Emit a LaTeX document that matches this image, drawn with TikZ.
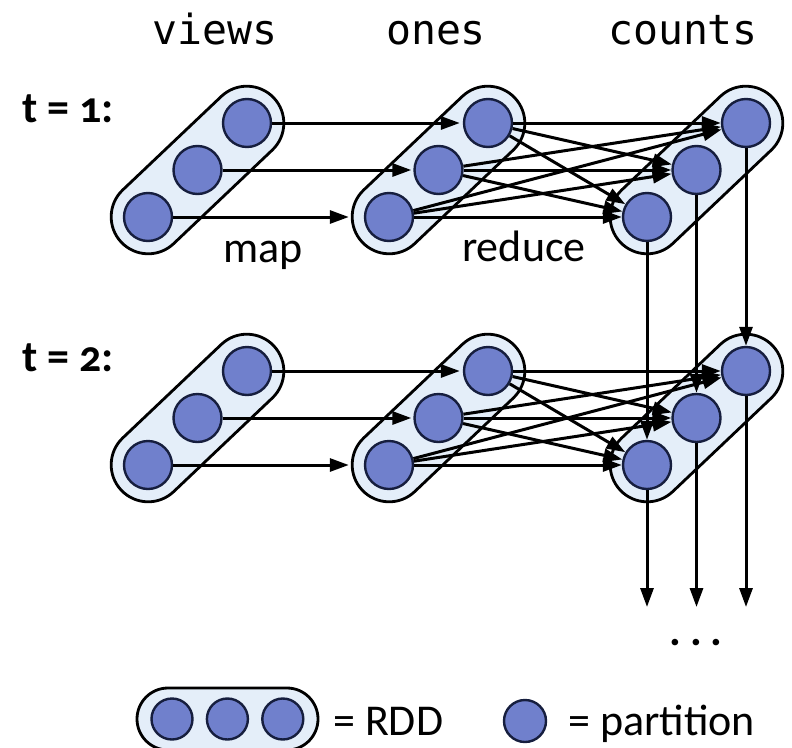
\documentclass[tikz,border=0pt]{standalone}
\usepackage{fontspec}
\setmainfont{Carlito}
\newfontfamily\etiq[Numbers=OldStyle]{Carlito}
\newfontfamily\mono{DejaVu Sans Mono}
\usetikzlibrary{positioning, arrows.meta}
\definecolor{azulpart}{RGB}{112,128,204}
\definecolor{bordepart}{RGB}{22,30,62}
\definecolor{azulrdd}{RGB}{228,238,249}
\tikzset{flecha/.style={line width=3pt, -{Triangle[length=19pt, width=13pt]}}}
\tikzset{particion/.style={draw=bordepart, circle, fill=azulpart, line width=2.4pt, minimum size=48pt, inner sep=0pt}}
\tikzset{rdd/.style={draw, rectangle, rounded corners=37pt, fill=azulrdd, line width=2.8pt, minimum width=210pt, minimum height=74pt}}
\tikzset{texto/.style={inner sep=0pt, anchor=base west, font=\fontsize{44}{50}\selectfont}}

\begin{document}
\begin{tikzpicture}[
            x = 1pt, y = -1pt
        ]
            \useasboundingbox (0,0) rectangle (792,747);

            % columnas
            \node[inner sep=0pt, anchor=base, font=\mono\fontsize{41.5}{48}\selectfont] (views) at (215,44) {views};
            \node[inner sep=0pt, anchor=base, font=\mono\fontsize{41.5}{48}\selectfont] (ones) at (436,44) {ones};
            \node[inner sep=0pt, anchor=base, font=\mono\fontsize{41.5}{48}\selectfont] (counts) at (683,44) {counts};

            \node[texto, font=\etiq\bfseries\fontsize{44}{50}\selectfont] (t1) at (22,122) {t = 1:};
            \node[texto, font=\etiq\bfseries\fontsize{44}{50}\selectfont] (t2) at (22,371) {t = 2:};

            % RDDs y particiones
            \foreach \col/\x in {v/148, o/389, c/647} {
                \foreach \row/\y in {1/217, 2/465} {
                    \node[rdd, rotate=43.5] (\col\row) at (\x+49.5,\y-47) {};
                    \foreach \i in {0,1,2}
                        \node[particion] (\col\row\i) at (\x+49.5*\i,\y-47*\i) {};
                }
            }

            % map y reduce
            \foreach \row in {1,2} {
                \foreach \i/\s in {0/15pt, 1/2pt, 2/3pt} {
                    \draw[flecha, shorten >=\s] (v\row\i) to [] (o\row\i);
                    \foreach \j in {0,1,2}
                        \draw[flecha] (o\row\i) to [] (c\row\j);
                }
            }

            \node[texto] (map) at (223,262) {map};
            \node[texto] (reduce) at (462,261) {reduce};

            % de t = 1 a t = 2 y siguientes
            \foreach \i in {0,1,2} {
                \coordinate (fin\i) at (c2\i |- 0,607);
                \draw[flecha] (c1\i) to [] (c2\i);
                \draw[flecha] (c2\i) to [] (fin\i);
            }
            \node[inner sep=0pt, anchor=base, font=\bfseries\fontsize{44}{50}\selectfont] (dots) at (696,645) {.\hspace{9pt}.\hspace{9pt}.};

            % leyenda
            \node[rdd, minimum width=181pt, minimum height=62pt, rounded corners=31pt] (rddley) at (227.5,719) {};
            \node[particion, minimum size=41pt] (p1) at (172,719) {};
            \node[particion, minimum size=41pt, right=12pt of p1] (p2) {};
            \node[particion, minimum size=41pt, right=12pt of p2] (p3) {};
            \node[texto] (eqrdd) at (333,735) {= RDD};
            \node[particion, minimum size=42pt] (pley) at (525,721) {};
            \node[texto] (eqpart) at (568,735) {= partition};
        \end{tikzpicture}
\end{document}
